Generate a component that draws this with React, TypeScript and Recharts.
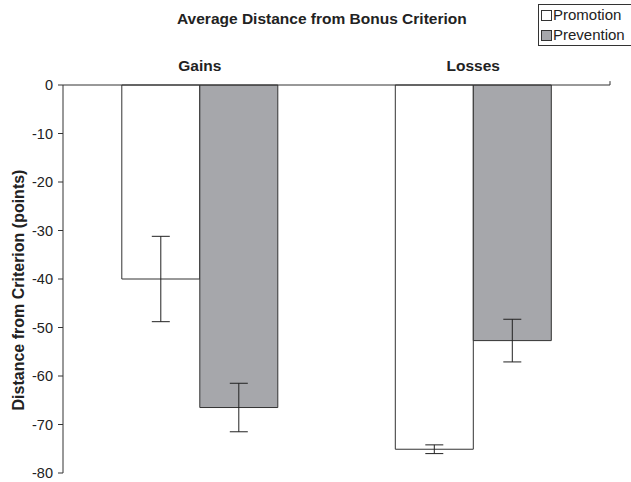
import * as React from "react";
import {
  BarChart,
  Bar,
  XAxis,
  YAxis,
  ErrorBar,
  ReferenceLine,
} from "recharts";

const categories = ["Gains", "Losses"];
const promotion = [-40, -75.1];
const prevention = [-66.5, -52.7];
const promotionErr = [8.8, 0.9];
const preventionErr = [5.0, 4.4];
const yTicks = [0, -10, -20, -30, -40, -50, -60, -70, -80];
const boundaryTicks = [1, 2];

const FONT = "'Liberation Sans', Arial, sans-serif";

const data = categories.map((name, i) => ({
  name,
  promotion: promotion[i],
  prevention: prevention[i],
  promotionErr: promotionErr[i],
  preventionErr: preventionErr[i],
}));

function YLabel(props: any) {
  const vb = props.viewBox || {};
  const x = (vb.x || 0) + 18;
  const y = (vb.y || 0) + (vb.height || 0) / 2 + 11;
  return (
    <text
      x={x}
      y={y}
      transform={`rotate(-90 ${x} ${y})`}
      textAnchor="middle"
      dominantBaseline="central"
      fontFamily={FONT}
      fontWeight="bold"
      fontSize={16}
      fill="#222"
    >
      Distance from Criterion (points)
    </text>
  );
}

export default function App() {
  return (
    <div
      style={{
        position: "absolute",
        left: 0,
        top: 0,
        width: 631,
        height: 482,
        background: "#fff",
        fontFamily: FONT,
        overflow: "hidden",
      }}
    >
      <div
        style={{
          position: "absolute",
          left: 177,
          top: 10,
          whiteSpace: "nowrap",
          fontWeight: "bold",
          fontSize: 15.5,
          color: "#222",
        }}
      >
        Average Distance from Bonus Criterion
      </div>
      <div
        style={{
          position: "absolute",
          left: 538,
          top: 4,
          width: 100,
          height: 42,
          border: "1px solid #333",
          boxSizing: "border-box",
          fontSize: 15,
          color: "#222",
          lineHeight: "20px",
        }}
      >
        {[
          { label: "Promotion", fill: "#ffffff" },
          { label: "Prevention", fill: "#a6a7ab" },
        ].map((it) => (
          <div key={it.label} style={{ display: "flex", alignItems: "center" }}>
            <span
              style={{
                display: "inline-block",
                width: 9,
                height: 9,
                border: "1px solid #333",
                background: it.fill,
                marginLeft: 2,
                marginRight: 1,
              }}
            />
            {it.label}
          </div>
        ))}
      </div>
      <BarChart
        width={631}
        height={482}
        data={data}
        margin={{ top: 55, right: 21, left: 0, bottom: 9 }}
        barCategoryGap="21.5%"
        barGap={0}
        style={{ position: "absolute", left: 0, top: 0 }}
      >
        <XAxis
          dataKey="name"
          orientation="top"
          height={30}
          tickLine={false}
          tickSize={0}
          tickMargin={14}
          axisLine={{ stroke: "#333" }}
          tick={{
            fontFamily: FONT,
            fontWeight: "bold",
            fontSize: 15.5,
            fill: "#222",
          }}
        />
        <XAxis
          xAxisId="bounds"
          type="number"
          domain={[0, 2]}
          allowDataOverflow
          hide
        />
        <YAxis
          type="number"
          domain={[-80, 0]}
          ticks={yTicks}
          interval={0}
          width={63}
          tickSize={5}
          tickMargin={5}
          axisLine={{ stroke: "#333" }}
          tickLine={{ stroke: "#333" }}
          tick={{ fontFamily: FONT, fontSize: 14.5, fill: "#222" }}
          label={<YLabel />}
        />
        {boundaryTicks.map((b) => (
          <ReferenceLine
            key={b}
            xAxisId="bounds"
            segment={[
              { x: b, y: 0 },
              { x: b, y: 0.8 },
            ]}
            ifOverflow="visible"
            stroke="#333"
          />
        ))}
        <Bar
          dataKey="promotion"
          fill="#ffffff"
          stroke="#333"
          strokeWidth={1}
          isAnimationActive={false}
        >
          <ErrorBar
            dataKey="promotionErr"
            width={9}
            stroke="#222"
            strokeWidth={1}
            direction="y"
          />
        </Bar>
        <Bar
          dataKey="prevention"
          fill="#a6a7ab"
          stroke="#333"
          strokeWidth={1}
          isAnimationActive={false}
        >
          <ErrorBar
            dataKey="preventionErr"
            width={9}
            stroke="#222"
            strokeWidth={1}
            direction="y"
          />
        </Bar>
      </BarChart>
    </div>
  );
}
